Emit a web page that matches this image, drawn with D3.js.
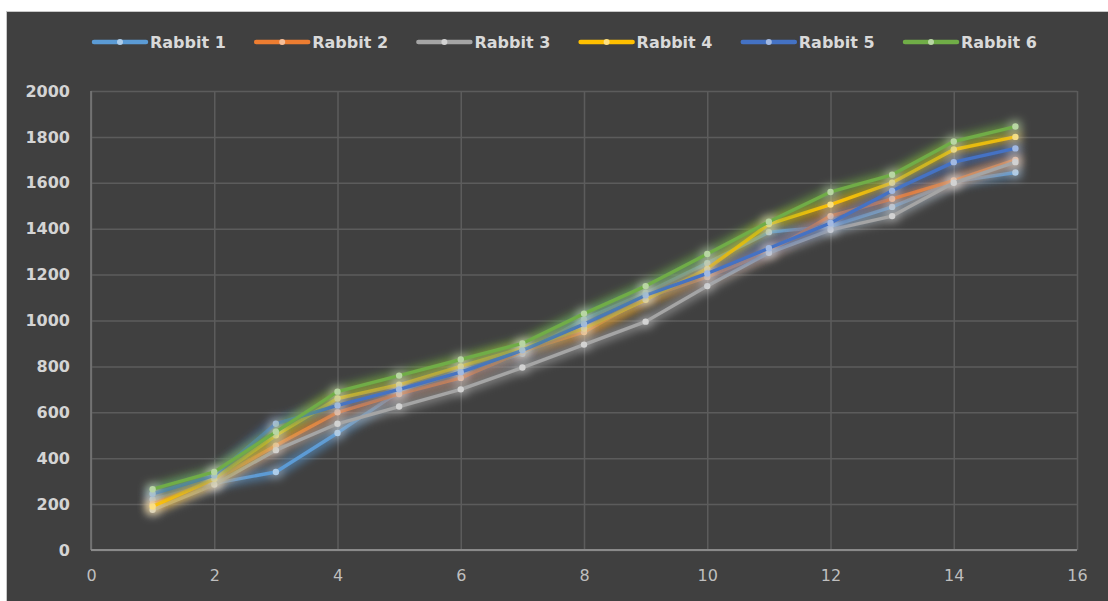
<!DOCTYPE html>
<html>
<head>
<meta charset="utf-8">
<script src="https://cdn.jsdelivr.net/npm/d3@7/dist/d3.min.js"></script>
<style>
  html, body { margin: 0; padding: 0; background: #ffffff; }
  svg { display: block; }
</style>
</head>
<body>
<svg id="chart" width="1108" height="601"></svg>
<script>
// Weight measurements of six rabbits over 15 observations
const days = [1, 2, 3, 4, 5, 6, 7, 8, 9, 10, 11, 12, 13, 14, 15];
const seriesNames = ["Rabbit 1", "Rabbit 2", "Rabbit 3", "Rabbit 4", "Rabbit 5", "Rabbit 6"];
const rabbit1 = [220, 290, 340, 510, 690, 780, 855, 1005, 1120, 1250, 1385, 1410, 1495, 1605, 1645];
const rabbit2 = [200, 305, 455, 600, 680, 750, 865, 950, 1100, 1190, 1300, 1455, 1530, 1610, 1700];
const rabbit3 = [175, 285, 435, 550, 625, 700, 795, 895, 995, 1150, 1295, 1395, 1455, 1600, 1690];
const rabbit4 = [190, 310, 500, 660, 720, 800, 880, 965, 1090, 1225, 1420, 1505, 1600, 1745, 1800];
const rabbit5 = [245, 325, 550, 630, 700, 775, 870, 985, 1110, 1205, 1315, 1425, 1565, 1690, 1750];
const rabbit6 = [265, 340, 515, 690, 760, 830, 900, 1030, 1150, 1290, 1430, 1560, 1635, 1780, 1845];
const seriesColors = ["#5B9BD5", "#ED7D31", "#A5A5A5", "#FFC000", "#4472C4", "#70AD47"];
const xTicks = [0, 2, 4, 6, 8, 10, 12, 14, 16];
const yTicks = [0, 200, 400, 600, 800, 1000, 1200, 1400, 1600, 1800, 2000];

const seriesValues = [rabbit1, rabbit2, rabbit3, rabbit4, rabbit5, rabbit6];
const series = seriesNames.map((name, i) => ({
  name,
  color: seriesColors[i],
  points: days.map((d, j) => ({ x: d, y: seriesValues[i][j] }))
}));

const svg = d3.select("#chart");

// dark chart panel
svg.append("rect").attr("x", 6).attr("y", 11).attr("width", 1102).attr("height", 590).attr("fill", "#c8c8c8");
svg.append("rect").attr("x", 7).attr("y", 12).attr("width", 1101).attr("height", 589).attr("fill", "#404040");

const plot = { left: 91, right: 1077, top: 91, bottom: 550 };
const x = d3.scaleLinear().domain([0, 16]).range([plot.left, plot.right]);
const y = d3.scaleLinear().domain([0, 2000]).range([plot.bottom, plot.top]);

// soft glow around each series
const defs = svg.append("defs");
series.forEach((s, i) => {
  const f = defs.append("filter").attr("id", "glow" + i)
    .attr("filterUnits", "userSpaceOnUse")
    .attr("x", 0).attr("y", 0).attr("width", 1108).attr("height", 601);
  f.append("feMorphology").attr("in", "SourceGraphic").attr("operator", "dilate").attr("radius", 3).attr("result", "wide");
  f.append("feGaussianBlur").attr("in", "wide").attr("stdDeviation", 4).attr("result", "blur");
  const ct = f.append("feComponentTransfer").attr("in", "blur").attr("result", "glow");
  ct.append("feFuncA").attr("type", "linear").attr("slope", 0.6);
  const m = f.append("feMerge");
  m.append("feMergeNode").attr("in", "glow");
  m.append("feMergeNode").attr("in", "SourceGraphic");
});

// gridlines
const gridY = svg.append("g")
  .attr("transform", `translate(${plot.left},0)`)
  .call(d3.axisLeft(y).tickValues(yTicks).tickSize(-(plot.right - plot.left)).tickFormat(""));
gridY.select(".domain").remove();
gridY.selectAll("line").attr("stroke", "#5c5c5c").attr("stroke-width", 1.5);

const gridX = svg.append("g")
  .attr("transform", `translate(0,${plot.bottom})`)
  .call(d3.axisBottom(x).tickValues(xTicks).tickSize(-(plot.bottom - plot.top)).tickFormat(""));
gridX.select(".domain").remove();
gridX.selectAll("line").attr("stroke", "#5c5c5c").attr("stroke-width", 1.5);

// axis lines
svg.append("line").attr("x1", x(0)).attr("x2", x(0)).attr("y1", y(2000)).attr("y2", y(0))
  .attr("stroke", "#7a7a7a").attr("stroke-width", 1.5);
svg.append("line").attr("x1", x(0)).attr("x2", x(16)).attr("y1", y(0)).attr("y2", y(0))
  .attr("stroke", "#8a8a8a").attr("stroke-width", 2);

// tick labels
const yAxis = svg.append("g")
  .attr("transform", `translate(${plot.left},0)`)
  .call(d3.axisLeft(y).tickValues(yTicks).tickSize(0).tickPadding(21).tickFormat(d3.format("d")));
yAxis.select(".domain").remove();
yAxis.selectAll("text")
  .attr("fill", "#d4d4d4")
  .style("font-family", "'DejaVu Sans', sans-serif")
  .style("font-size", "16px")
  .style("font-weight", "bold");

const xAxis = svg.append("g")
  .attr("transform", `translate(0,${plot.bottom})`)
  .call(d3.axisBottom(x).tickValues(xTicks).tickSize(0).tickPadding(20).tickFormat(d3.format("d")));
xAxis.select(".domain").remove();
xAxis.selectAll("text")
  .attr("fill", "#bfbfbf")
  .style("font-family", "'DejaVu Sans', sans-serif")
  .style("font-size", "16px");

// series lines and markers
const line = d3.line().x(d => x(d.x)).y(d => y(d.y));
const paleOf = c => d3.interpolateRgb(c, "#ffffff")(0.5);

series.forEach((s, i) => {
  const g = svg.append("g").attr("filter", `url(#glow${i})`);
  g.append("path")
    .datum(s.points)
    .attr("d", line)
    .attr("fill", "none")
    .attr("stroke", s.color)
    .attr("stroke-width", 3.4)
    .attr("stroke-linejoin", "round");
  g.selectAll("circle")
    .data(s.points)
    .join("circle")
    .attr("cx", d => x(d.x))
    .attr("cy", d => y(d.y))
    .attr("r", 3.2)
    .attr("fill", paleOf(s.color));
});

// legend
const legend = svg.append("g");
series.forEach((s, i) => {
  const x0 = 94 + i * 162.2;
  const item = legend.append("g").attr("transform", `translate(${x0},42)`);
  item.append("line").attr("x1", 0).attr("x2", 52).attr("y1", 0).attr("y2", 0)
    .attr("stroke", s.color).attr("stroke-width", 4.5).attr("stroke-linecap", "round");
  item.append("circle").attr("cx", 26).attr("cy", 0).attr("r", 3).attr("fill", paleOf(s.color));
  item.append("text")
    .attr("x", 56).attr("y", 0).attr("dy", "0.36em")
    .attr("fill", "#d9d9d9")
    .style("font-family", "'DejaVu Sans', sans-serif")
    .style("font-size", "16px")
    .style("font-weight", "bold")
    .text(s.name);
});
</script>
</body>
</html>
